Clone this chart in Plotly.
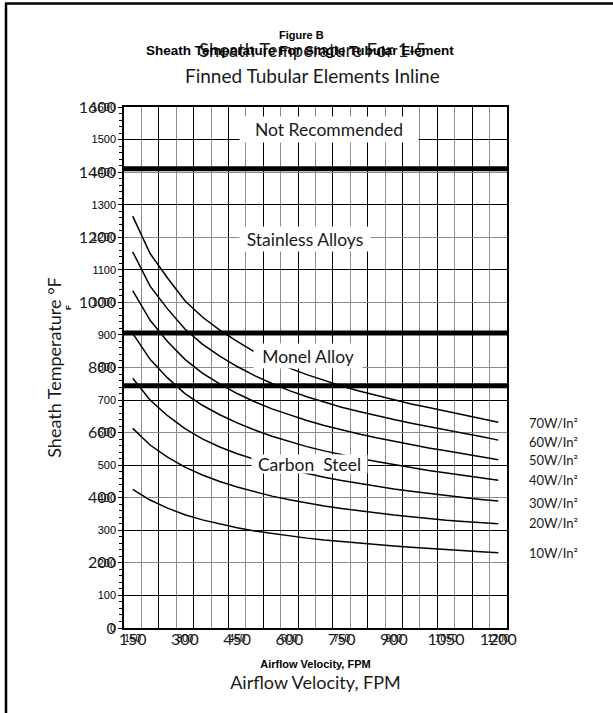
import plotly.graph_objects as go

# ---------------- data ----------------
velocity = [150, 200, 250, 300, 350, 400, 450, 500, 550, 600, 650,
            700, 750, 800, 850, 900, 950, 1000, 1050, 1100, 1150, 1200]

w10 = [426, 393, 368, 348, 332, 319, 308, 298, 290, 283, 276,
       270, 265, 260, 256, 252, 248, 244, 240, 237, 234, 231]
w20 = [613, 562, 525, 494, 470, 450, 433, 418, 405, 394, 384,
       375, 367, 360, 353, 347, 342, 336, 331, 327, 323, 320]
w30 = [767, 700, 652, 612, 581, 556, 535, 517, 501, 487, 474,
       463, 453, 444, 435, 427, 420, 413, 407, 401, 395, 390]
w40 = [905, 825, 768, 720, 684, 655, 630, 608, 589, 572, 557,
       544, 532, 521, 511, 501, 493, 484, 476, 469, 461, 454]
w50 = [1036, 945, 880, 825, 783, 750, 720, 695, 673, 654, 637,
       622, 608, 596, 584, 573, 563, 553, 544, 535, 526, 517]
w60 = [1155, 1050, 980, 918, 872, 835, 803, 775, 751, 729, 710,
       694, 678, 665, 652, 640, 629, 618, 608, 598, 588, 577]
w70 = [1265, 1150, 1075, 1005, 955, 915, 880, 848, 822, 798, 778,
       760, 743, 728, 714, 700, 688, 677, 666, 656, 645, 632]

series = [w10, w20, w30, w40, w50, w60, w70]
series_names = ["10W/In²", "20W/In²", "30W/In²", "40W/In²",
                "50W/In²", "60W/In²", "70W/In²"]
series_label_temps = [230, 322, 383, 454, 515, 571, 629]

limit_temps = [1410, 906, 744]

zone_names = ["Not Recommended", "Stainless Alloys", "Monel Alloy", "Carbon  Steel"]
zone_velocity = [714, 645, 653, 658]
zone_temps = [1530, 1194, 835, 503]
zone_box_w = [178, 130, 108, 115]
zone_box_h = [25, 24, 24, 18]

x_tick_vals = [150, 300, 450, 600, 750, 900, 1050, 1200]
x_tick_text = ["150", "300", "450", "600", "750", "900", "1050", "1200"]
x_grid_gray = [175, 275, 375, 475, 575, 675, 775, 875, 975, 1075, 1175]
x_grid_black = [225, 325, 425, 525, 625, 725, 825, 925, 1025, 1125]

y_small_ticks = [0, 100, 200, 300, 400, 500, 600, 700, 800, 900, 1000,
                 1100, 1200, 1300, 1400, 1500, 1600]
y_large_ticks = [0, 200, 400, 600, 800, 1000, 1200, 1400, 1600]
y_grid_black = [100, 300, 500, 700, 900, 1100, 1300, 1500]

# ---------------- layout geometry ----------------
W, H = 613, 713
L, R, T, B = 124, 507, 107, 628
PW, PH = R - L, B - T


def px_x(p):
    return (p - L) / PW


def px_y(p):
    return (B - p) / PH


SMALL = "Liberation Sans"
LARGE = "Lato"
TXT = "#1a1a1a"

fig = go.Figure()

for vals, name in zip(series, series_names):
    fig.add_trace(go.Scatter(x=velocity, y=vals, mode="lines", name=name,
                             line=dict(color="black", width=1.5),
                             showlegend=False, hoverinfo="x+y+name"))

# invisible traces to activate overlay axes
fig.add_trace(go.Scatter(x=velocity[:1], y=w10[:1], xaxis="x2", yaxis="y2",
                         mode="markers", marker=dict(opacity=0), showlegend=False,
                         hoverinfo="skip"))
fig.add_trace(go.Scatter(x=velocity[:1], y=w10[:1], xaxis="x3", yaxis="y3",
                         mode="markers", marker=dict(opacity=0), showlegend=False,
                         hoverinfo="skip"))

for t in limit_temps:
    fig.add_shape(type="line", xref="x domain", yref="y", x0=0, x1=1, y0=t, y1=t,
                  line=dict(color="black", width=5), layer="above")

annotations = []
for name, xv, yv, bw, bh in zip(zone_names, zone_velocity, zone_temps, zone_box_w, zone_box_h):
    annotations.append(dict(x=xv, y=yv, xref="x", yref="y", text=name, showarrow=False,
                            font=dict(family=LARGE, size=17.5, color=TXT),
                            bgcolor="white", width=bw, height=bh, borderpad=0,
                            xanchor="center", yanchor="middle"))

for name, yv in zip(series_names, series_label_temps):
    annotations.append(dict(x=px_x(527), y=yv, xref="paper", yref="y", text=name,
                            showarrow=False, xanchor="left", yanchor="middle",
                            font=dict(family=LARGE, size=13, color=TXT)))

# titles
annotations += [
    dict(x=px_x(301), y=px_y(35), xref="paper", yref="paper", text="<b>Figure B</b>",
         showarrow=False, font=dict(family=SMALL, size=11, color="black"),
         xanchor="center", yanchor="middle"),
    dict(x=px_x(312), y=px_y(50), xref="paper", yref="paper",
         text="Sheath Temperature For 1-5", showarrow=False,
         font=dict(family=LARGE, size=18.5, color=TXT), xanchor="center", yanchor="middle"),
    dict(x=px_x(300), y=px_y(51), xref="paper", yref="paper",
         text="<b>Sheath Temperature For Single Tubular Element</b>", showarrow=False,
         font=dict(family=SMALL, size=13.5, color="black"), xanchor="center", yanchor="middle"),
    dict(x=px_x(312), y=px_y(76), xref="paper", yref="paper",
         text="Finned Tubular Elements Inline", showarrow=False,
         font=dict(family=LARGE, size=19, color=TXT), xanchor="center", yanchor="middle"),
    dict(x=px_x(68), y=px_y(308), xref="paper", yref="paper", text="<b>F</b>",
         showarrow=False, textangle=-90, font=dict(family=SMALL, size=8, color="black"),
         xanchor="center", yanchor="middle"),
]

# outer frame: left and top edges only
fig.add_shape(type="line", xref="paper", yref="paper",
              x0=px_x(6), x1=px_x(6), y0=px_y(720), y1=px_y(3),
              line=dict(color="black", width=2.5), layer="above")
fig.add_shape(type="line", xref="paper", yref="paper",
              x0=px_x(5), x1=px_x(620), y0=px_y(3.5), y1=px_y(3.5),
              line=dict(color="black", width=2.5), layer="above")

xrange = [125, 1225]
yrange = [0, 1600]

fig.update_layout(
    width=W, height=H,
    margin=dict(l=L, r=W - R, t=T, b=H - B, pad=0),
    paper_bgcolor="white", plot_bgcolor="white",
    showlegend=False,
    annotations=annotations,
    xaxis=dict(range=xrange, tickmode="array", tickvals=x_tick_vals, ticktext=x_tick_text,
               showgrid=False, zeroline=False, ticks="",
               tickfont=dict(family=SMALL, size=10, color="black"),
               showline=True, linecolor="black", linewidth=1.5, mirror=True,
               minor=dict(tickmode="array", tickvals=x_grid_gray, showgrid=True,
                          gridcolor="#8c8c8c", gridwidth=1.3, ticks=""),
               title=dict(text="<b>Airflow Velocity, FPM</b>", standoff=18,
                          font=dict(family=SMALL, size=11, color="black"))),
    xaxis2=dict(range=xrange, overlaying="x", side="bottom", tickmode="array",
                tickvals=x_tick_vals, ticktext=x_tick_text, showgrid=False, zeroline=False,
                ticks="", tickfont=dict(family=LARGE, size=16, color=TXT),
                showline=False,
                minor=dict(tickmode="array", tickvals=x_grid_black, showgrid=True,
                           gridcolor="black", gridwidth=1.3, ticks=""),
                title=dict(text="Airflow Velocity, FPM", standoff=29,
                           font=dict(family=LARGE, size=18, color=TXT))),
    xaxis3=dict(range=xrange, overlaying="x", side="bottom", showticklabels=False,
                showgrid=False, zeroline=False, ticks="", showline=False),
    yaxis=dict(range=yrange, tickmode="array", tickvals=y_small_ticks,
               showgrid=False, zeroline=False, ticks="outside", ticklen=4,
               tickcolor="black", tickfont=dict(family=SMALL, size=11, color="black"),
               showline=True, linecolor="black", linewidth=1.5, mirror=True,
               minor=dict(dtick=20, tick0=0, ticks="outside", ticklen=3,
                          tickcolor="black", showgrid=False)),
    yaxis2=dict(range=yrange, overlaying="y", side="left", tickmode="array",
                tickvals=y_large_ticks, showgrid=True, gridcolor="#8c8c8c", gridwidth=1.3,
                zeroline=False, ticks="outside", ticklen=4, tickcolor="rgba(0,0,0,0)",
                tickfont=dict(family=LARGE, size=16, color=TXT), showline=False,
                title=dict(text="Sheath Temperature °F", standoff=12,
                           font=dict(family=LARGE, size=18, color=TXT))),
    yaxis3=dict(range=yrange, overlaying="y", side="left", tickmode="array",
                tickvals=y_grid_black, showgrid=True, gridcolor="black", gridwidth=1.3,
                showticklabels=False, zeroline=False, ticks="", showline=False),
)

fig.write_html("out.html", config={"displayModeBar": False},
               post_script="document.body.style.margin='0px';")
